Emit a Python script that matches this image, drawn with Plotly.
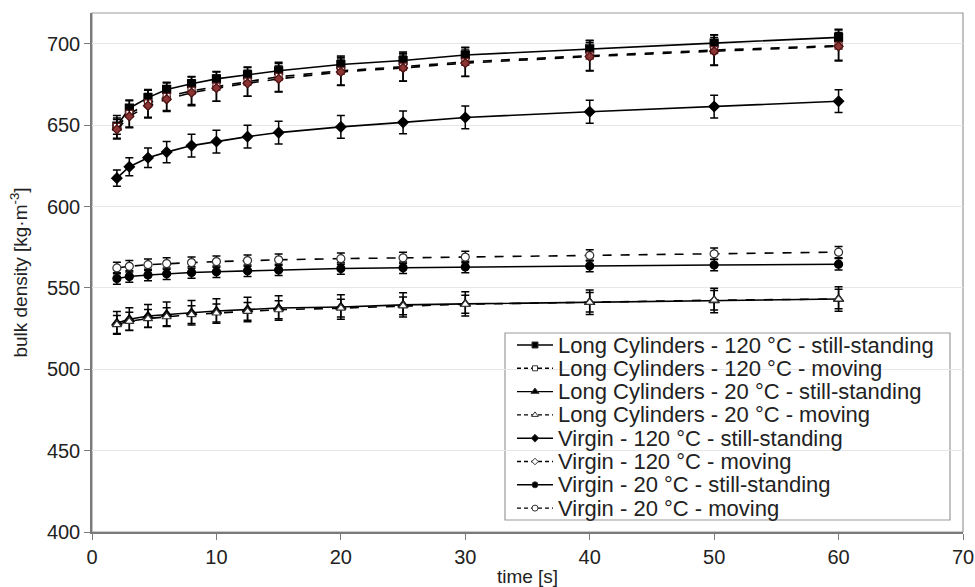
import plotly.graph_objects as go

time = [2, 3, 4.5, 6, 8, 10, 12.5, 15, 20, 25, 30, 40, 50, 60]

lc120_still = [649.5, 660.5, 667, 672, 675.5, 678.5, 681, 683.5, 687.3, 689.8, 693.2, 697, 700.5, 704]
lc120_still_err = [5, 5, 4.5, 4.5, 4.5, 4.5, 4.5, 4.5, 4.5, 4.5, 4.5, 5, 5, 5]
lc120_move = [649, 657, 663.5, 667.5, 671.2, 673.8, 676.8, 679.8, 683.5, 686, 689, 692.8, 696.2, 699]
lc120_move_err = [7, 8, 8.5, 8.5, 8.5, 9, 9, 9, 9, 9, 9, 9.5, 9.5, 9.5]
v120_still = [617.5, 624.5, 630, 633.5, 637.5, 640, 643, 645.5, 649, 651.8, 654.8, 658.3, 661.5, 664.8]
v120_still_err = [5, 5.5, 6, 6.5, 7, 7, 7, 7, 7, 7, 7, 7, 7, 7]
v120_move = [647.5, 655.5, 662, 666, 670, 672.8, 675.8, 678.5, 682.8, 685.2, 688.2, 692.2, 695.5, 698.5]
v120_move_err = [6, 7, 7.5, 7.5, 8, 8, 8, 8, 8, 8, 8, 8.5, 8.5, 8.5]
lc20_still = [528.5, 530.8, 532.8, 533.8, 534.8, 535.8, 536.8, 537.7, 538.3, 539.6, 540.2, 541.2, 542.3, 543.2]
lc20_still_err = [7, 7, 7, 7.5, 7.5, 7.5, 7.5, 7.5, 7.5, 7.5, 7.5, 7.5, 7.5, 7.5]
lc20_move = [527.5, 529.5, 531.2, 532.3, 533.6, 534.6, 535.6, 536.6, 537.6, 539, 540, 541.2, 542.5, 543.2]
lc20_move_err = [5.5, 5.5, 5.5, 5.5, 5.5, 5.5, 5.5, 5.5, 5.5, 5.5, 5.5, 6, 6, 6]
v20_still = [555.8, 557, 558, 558.7, 559.5, 560, 560.6, 561.1, 562, 562.4, 562.9, 563.5, 564.1, 564.6]
v20_still_err = [3.5] * 14
v20_move = [562.3, 563.3, 564.3, 565, 565.6, 566.2, 566.8, 567.3, 568, 568.5, 569, 570, 571, 572]
v20_move_err = [3.5] * 14

series_names = [
    "Long Cylinders - 120 °C - still-standing",
    "Long Cylinders - 120 °C - moving",
    "Long Cylinders - 20 °C - still-standing",
    "Long Cylinders - 20 °C - moving",
    "Virgin - 120 °C - still-standing",
    "Virgin - 120 °C - moving",
    "Virgin - 20 °C - still-standing",
    "Virgin - 20 °C - moving",
]
series_values = [lc120_still, lc120_move, lc20_still, lc20_move, v120_still, v120_move, v20_still, v20_move]
series_errors = [lc120_still_err, lc120_move_err, lc20_still_err, lc20_move_err,
                 v120_still_err, v120_move_err, v20_still_err, v20_move_err]

# styles: dash, symbol, size, fill, edge
styles = [
    ("solid", "square", 8, "black", "black"),
    ("dash", "square", 7, "white", "#6b1f1f"),
    ("solid", "triangle-up", 9, "black", "black"),
    ("dash", "triangle-up", 8, "white", "#333333"),
    ("solid", "diamond", 8, "black", "black"),
    ("dash", "diamond", 7, "#8a3434", "#4a1010"),
    ("solid", "circle", 8, "black", "black"),
    ("dash", "circle", 8, "white", "#333333"),
]

FONT = "Liberation Sans, Arial, sans-serif"
TXT = "#222222"

fig = go.Figure()
for name, ys, err, (dash, sym, size, fill, edge) in zip(series_names, series_values, series_errors, styles):
    fig.add_trace(go.Scatter(
        x=time, y=ys, name=name, mode="lines+markers", showlegend=False,
        line=dict(color="black", width=1.6, dash=dash),
        marker=dict(symbol=sym, size=size, color=fill, line=dict(color=edge, width=1.2)),
        error_y=dict(type="data", array=err, visible=True, color="black", thickness=1.5, width=4),
    ))

# ---- hand-made legend (pixel layout on an overlay axis) ----
L_LEFT, L_RIGHT, L_TOP, L_BOTTOM = 505, 950, 333, 520
ROW0, ROW_STEP = 345, 23.3
KEY_X0, KEY_X1, TEXT_X = 517, 553, 556

for i, (name, (dash, sym, size, fill, edge)) in enumerate(zip(series_names, styles)):
    ry = ROW0 + i * ROW_STEP
    fig.add_trace(go.Scatter(
        x=[KEY_X0, KEY_X1], y=[ry, ry], xaxis="x2", yaxis="y2", mode="lines",
        showlegend=False, hoverinfo="skip",
        line=dict(color="black", width=1.4, dash="solid" if dash == "solid" else "4px,3px"),
    ))
    fig.add_trace(go.Scatter(
        x=[(KEY_X0 + KEY_X1) / 2], y=[ry], xaxis="x2", yaxis="y2", mode="markers",
        showlegend=False, hoverinfo="skip",
        marker=dict(symbol=sym, size=max(size - 2, 5),
                    color="white" if dash == "dash" else "black",
                    line=dict(color="#333333", width=1)),
    ))
    fig.add_annotation(
        x=TEXT_X, y=ry, xref="x2", yref="y2", text=name, showarrow=False,
        xanchor="left", yanchor="middle", font=dict(family=FONT, size=22, color=TXT),
    )

fig.add_shape(type="rect", xref="x2", yref="y2", x0=L_LEFT, x1=L_RIGHT, y0=L_TOP, y1=L_BOTTOM,
              line=dict(color="#9a9a9a", width=1.2), fillcolor="white", layer="below")

fig.add_shape(type="rect", xref="paper", yref="paper", x0=0, y0=0, x1=1, y1=1,
              line=dict(color="#9a9a9a", width=1.2), layer="below")

fig.update_layout(
    width=975, height=587,
    margin=dict(l=92, r=12, t=13, b=55, autoexpand=False),
    paper_bgcolor="white", plot_bgcolor="white",
    font=dict(family=FONT, color=TXT, size=20),
    showlegend=False,
    xaxis=dict(
        range=[0, 70], dtick=10, tick0=0, showgrid=False, zeroline=False,
        showline=True, linecolor="#7a7a7a", linewidth=1.5,
        ticks="outside", ticklen=6, tickcolor="#7a7a7a",
        tickfont=dict(size=20), ticklabeloverflow="allow", automargin=False,
        title=dict(text="time [s]", font=dict(size=19), standoff=3),
    ),
    yaxis=dict(
        range=[400, 719], dtick=50, tick0=400, showgrid=True, gridcolor="#e6e6e6", gridwidth=1,
        zeroline=False, showline=True, linecolor="#7a7a7a", linewidth=1.5,
        ticks="outside", ticklen=6, tickcolor="#7a7a7a",
        tickfont=dict(size=20), automargin=False,
        title=dict(text="bulk density [kg·m<sup>-3</sup>]", font=dict(size=19), standoff=14),
    ),
    xaxis2=dict(range=[92, 963], overlaying="x", visible=False, fixedrange=True),
    yaxis2=dict(range=[532, 13], overlaying="y", visible=False, fixedrange=True),
)

fig.write_html("out.html")
